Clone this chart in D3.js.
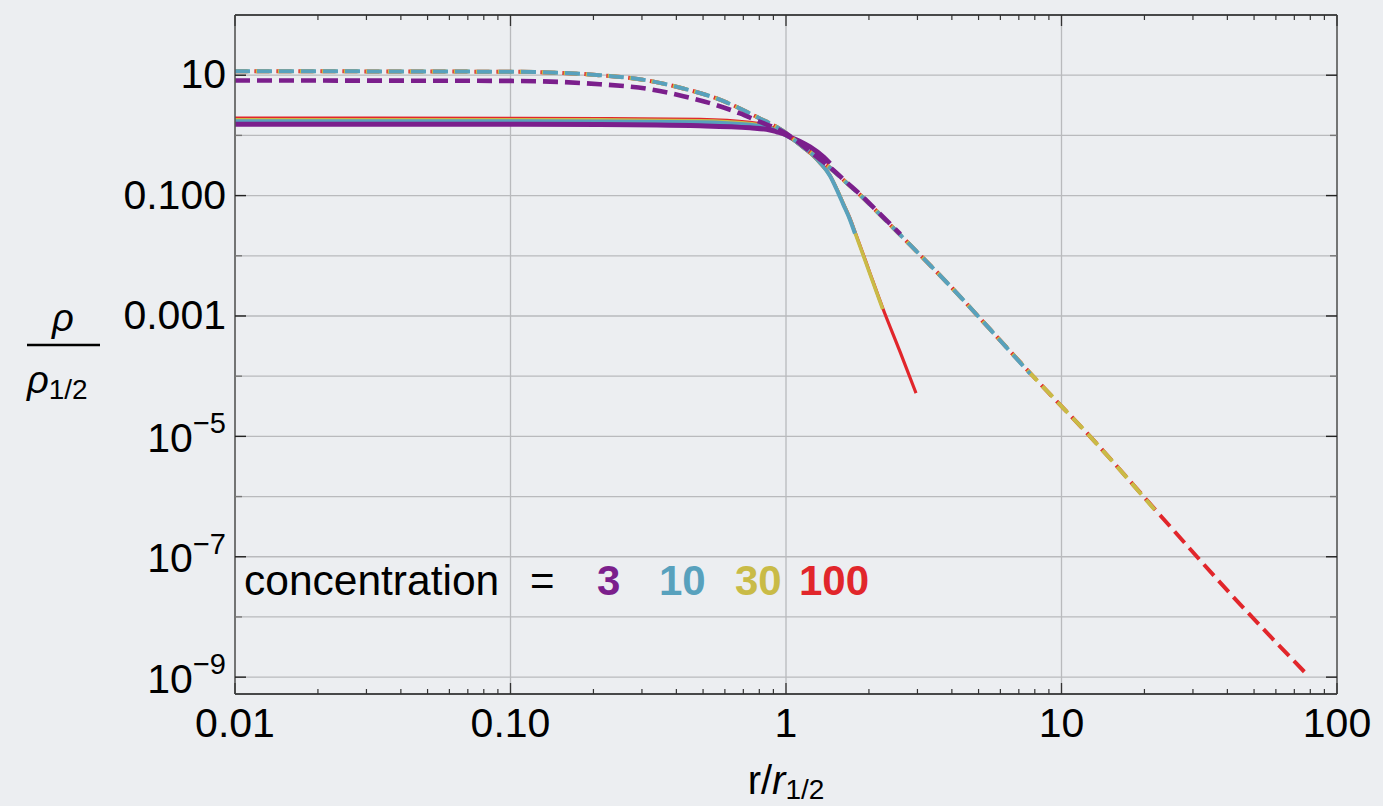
<!DOCTYPE html>
<html>
<head>
<meta charset="utf-8">
<script src="https://cdn.jsdelivr.net/npm/d3@7"></script>
<style>
body { margin: 0; background: #eceef1; }
svg { display: block; font-family: "Liberation Sans", Arial, Helvetica, sans-serif; }
</style>
</head>
<body>
<svg id="chart"></svg>
<script>
// values: r / r_half and log10(rho / rho_half)
var concentrations = ["3", "10", "30", "100"];

// solid curves
var solid_r_c3 = [0.01, 0.1, 0.211, 0.487, 0.74, 0.875, 0.925, 1.0, 1.034, 1.124, 1.222, 1.366, 1.444];
var solid_logrho_c3 = [0.186, 0.185, 0.181, 0.16, 0.125, 0.09, 0.06, 0.01, -0.025, -0.1, -0.191, -0.357, -0.467];

var solid_r_c10 = [0.01, 0.1, 0.211, 0.487, 0.74, 0.875, 0.925, 1.0, 1.063, 1.156, 1.24, 1.328, 1.444, 1.528, 1.615, 1.707, 1.78];
var solid_logrho_c10 = [0.236, 0.235, 0.232, 0.22, 0.175, 0.12, 0.085, 0.0, -0.07, -0.2, -0.31, -0.45, -0.67, -0.9, -1.15, -1.4, -1.63];

var solid_r_c30 = [0.01, 0.1, 0.211, 0.487, 0.74, 0.875, 0.925, 1.0, 1.063, 1.156, 1.24, 1.328, 1.444, 1.528, 1.615, 1.707, 1.78, 1.872, 2.018, 2.244];
var solid_logrho_c30 = [0.261, 0.26, 0.257, 0.243, 0.195, 0.132, 0.092, 0.0, -0.072, -0.203, -0.315, -0.455, -0.668, -0.892, -1.14, -1.39, -1.615, -1.89, -2.305, -2.885];

var solid_r_c100 = [0.01, 0.1, 0.211, 0.487, 0.74, 0.875, 0.925, 1.0, 1.063, 1.156, 1.24, 1.328, 1.444, 1.528, 1.615, 1.707, 1.78, 1.872, 2.018, 2.244, 2.593, 2.965];
var solid_logrho_c100 = [0.286, 0.285, 0.281, 0.266, 0.215, 0.145, 0.1, 0.0, -0.075, -0.205, -0.32, -0.46, -0.665, -0.885, -1.13, -1.375, -1.6, -1.874, -2.289, -2.867, -3.593, -4.282];

// dashed curves
var dashed_r_c3 = [0.01, 0.1, 0.211, 0.321, 0.424, 0.56, 0.681, 0.804, 0.925, 1.0, 1.063, 1.24, 1.444, 1.661, 1.908, 2.134, 2.6];
var dashed_logrho_c3 = [0.912, 0.905, 0.85, 0.767, 0.651, 0.502, 0.364, 0.224, 0.113, 0.03, -0.05, -0.29, -0.53, -0.78, -1.03, -1.25, -1.64];

var dashed_r_c10 = [0.01, 0.1, 0.211, 0.321, 0.424, 0.56, 0.681, 0.804, 0.925, 1.0, 1.063, 1.24, 1.444, 1.661, 1.908, 2.134, 2.593, 3.94, 5.5, 7.69];
var dashed_logrho_c10 = [1.066, 1.057, 1.0, 0.905, 0.779, 0.613, 0.447, 0.281, 0.141, 0.04, -0.06, -0.3, -0.54, -0.79, -1.04, -1.26, -1.65, -2.5, -3.22, -3.96];

var dashed_r_c30 = [0.01, 0.1, 0.211, 0.321, 0.424, 0.56, 0.681, 0.804, 0.925, 1.0, 1.063, 1.24, 1.444, 1.661, 1.908, 2.134, 2.593, 3.94, 5.5, 8.13, 12.69, 21.8];
var dashed_logrho_c30 = [1.066, 1.057, 1.0, 0.905, 0.779, 0.613, 0.447, 0.281, 0.141, 0.04, -0.06, -0.3, -0.54, -0.79, -1.04, -1.26, -1.65, -2.5, -3.22, -4.066, -5.0, -6.22];

var dashed_r_c100 = [0.01, 0.1, 0.211, 0.321, 0.424, 0.56, 0.681, 0.804, 0.925, 1.0, 1.063, 1.24, 1.444, 1.661, 1.908, 2.134, 2.593, 3.94, 5.5, 8.13, 12.69, 22.8, 42.0, 77.2];
var dashed_logrho_c100 = [1.066, 1.057, 1.0, 0.905, 0.779, 0.613, 0.447, 0.281, 0.141, 0.04, -0.06, -0.3, -0.54, -0.79, -1.04, -1.26, -1.65, -2.5, -3.22, -4.066, -5.0, -6.31, -7.666, -8.94];

// ticks
var x_tick_values = [0.01, 0.1, 1, 10, 100];
var x_tick_labels = ["0.01", "0.10", "1", "10", "100"];
var y_tick_exps = [1, -1, -3, -5, -7, -9];
var y_tick_base = ["10", "0.100", "0.001", "10", "10", "10"];
var y_tick_sup = ["", "", "", "\u22125", "\u22127", "\u22129"];

// ---- style / layout ----
var w = 1383, h = 806;
var bg_color = "#eceef1";
var colors = {
  "3": "#7b1f8c",
  "10": "#58a1bd",
  "30": "#c9bb47",
  "100": "#e1262b"
};
var solid_width = { "3": 5, "10": 4, "30": 3.6, "100": 3.2 };
var dashed_width = { "3": 4.6, "10": 4, "30": 4, "100": 4 };
var dash_offset = { "3": 0, "10": 0, "30": 1.3, "100": 2.6 };
var legend_x = { "3": 597, "10": 659, "30": 735, "100": 799 };

// note: "top" is taken by window.top, so use plot_* names
var plot_left = 235, plot_right = 1337, plot_top = 15, plot_bottom = 694;

var svg = d3.select("#chart")
  .attr("width", w)
  .attr("height", h)
  .attr("style", "background-color: " + bg_color + ";");

var x = d3.scaleLog().domain([0.01, 100]).range([plot_left, plot_right]);
var y = d3.scaleLog().domain([Math.pow(10, -9.28), 100]).range([plot_bottom, plot_top]);

// grid
var grid = svg.append("g");
grid.selectAll("line.v")
  .data([0.1, 1, 10])
  .enter().append("line")
  .attr("x1", d => x(d)).attr("x2", d => x(d))
  .attr("y1", plot_top).attr("y2", plot_bottom)
  .attr("stroke", "#b9babd").attr("stroke-width", 1.3);
grid.selectAll("line.h")
  .data(d3.range(-9, 2))
  .enter().append("line")
  .attr("x1", plot_left).attr("x2", plot_right)
  .attr("y1", d => y(Math.pow(10, d))).attr("y2", d => y(Math.pow(10, d)))
  .attr("stroke", "#b9babd").attr("stroke-width", 1.3);

// curves
svg.append("clipPath").attr("id", "plotclip")
  .append("rect").attr("x", plot_left).attr("y", plot_top)
  .attr("width", plot_right - plot_left).attr("height", plot_bottom - plot_top);

var line = d3.line()
  .x(d => x(d[0]))
  .y(d => y(Math.pow(10, d[1])))
  .curve(d3.curveMonotoneX);

var solid_series = {
  "3": d3.zip(solid_r_c3, solid_logrho_c3),
  "10": d3.zip(solid_r_c10, solid_logrho_c10),
  "30": d3.zip(solid_r_c30, solid_logrho_c30),
  "100": d3.zip(solid_r_c100, solid_logrho_c100)
};
var dashed_series = {
  "3": d3.zip(dashed_r_c3, dashed_logrho_c3),
  "10": d3.zip(dashed_r_c10, dashed_logrho_c10),
  "30": d3.zip(dashed_r_c30, dashed_logrho_c30),
  "100": d3.zip(dashed_r_c100, dashed_logrho_c100)
};

var curves = svg.append("g").attr("clip-path", "url(#plotclip)");
// largest concentration drawn first, c = 3 ends up on top
var draw_order = concentrations.slice().reverse();

draw_order.forEach(function(c) {
  curves.append("path")
    .attr("d", line(solid_series[c]))
    .attr("fill", "none")
    .attr("stroke", colors[c])
    .attr("stroke-width", solid_width[c])
    .attr("stroke-linecap", "butt");
});
draw_order.forEach(function(c) {
  curves.append("path")
    .attr("d", line(dashed_series[c]))
    .attr("fill", "none")
    .attr("stroke", colors[c])
    .attr("stroke-width", dashed_width[c])
    .attr("stroke-dasharray", "15,7")
    .attr("stroke-dashoffset", dash_offset[c]);
});

// frame
var frame = svg.append("g");
frame.append("line").attr("x1", plot_left).attr("x2", plot_right).attr("y1", plot_bottom).attr("y2", plot_bottom)
  .attr("stroke", "#111").attr("stroke-width", 1.6);
frame.append("line").attr("x1", plot_left).attr("x2", plot_right).attr("y1", plot_top).attr("y2", plot_top)
  .attr("stroke", "#111").attr("stroke-width", 1.6);
frame.append("line").attr("x1", plot_left).attr("x2", plot_left).attr("y1", plot_top).attr("y2", plot_bottom)
  .attr("stroke", "#555").attr("stroke-width", 1.6);
frame.append("line").attr("x1", plot_right).attr("x2", plot_right).attr("y1", plot_top).attr("y2", plot_bottom)
  .attr("stroke", "#555").attr("stroke-width", 1.6);

// x ticks (major + minor), bottom and top, pointing inward
var x_minor = [];
[0.01, 0.1, 1, 10].forEach(function(d) {
  for (var k = 2; k <= 9; k++) x_minor.push(d * k);
});
var ticks = svg.append("g");
x_minor.forEach(function(v) {
  ticks.append("line").attr("x1", x(v)).attr("x2", x(v)).attr("y1", plot_bottom).attr("y2", plot_bottom - 5)
    .attr("stroke", "#333").attr("stroke-width", 1.2);
  ticks.append("line").attr("x1", x(v)).attr("x2", x(v)).attr("y1", plot_top).attr("y2", plot_top + 5)
    .attr("stroke", "#333").attr("stroke-width", 1.2);
});
x_tick_values.forEach(function(v) {
  ticks.append("line").attr("x1", x(v)).attr("x2", x(v)).attr("y1", plot_bottom).attr("y2", plot_bottom - 11)
    .attr("stroke", "#333").attr("stroke-width", 1.3);
  ticks.append("line").attr("x1", x(v)).attr("x2", x(v)).attr("y1", plot_top).attr("y2", plot_top + 11)
    .attr("stroke", "#333").attr("stroke-width", 1.3);
});

// y ticks: labelled decades longer and darker
d3.range(-9, 2).forEach(function(e) {
  var labelled = y_tick_exps.indexOf(e) >= 0;
  var len = labelled ? 11 : 7;
  var col = labelled ? "#222" : "#777";
  var yy = y(Math.pow(10, e));
  ticks.append("line").attr("x1", plot_left).attr("x2", plot_left + len).attr("y1", yy).attr("y2", yy)
    .attr("stroke", col).attr("stroke-width", 1.4);
  ticks.append("line").attr("x1", plot_right).attr("x2", plot_right - len).attr("y1", yy).attr("y2", yy)
    .attr("stroke", col).attr("stroke-width", 1.4);
});

// tick labels
var labels = svg.append("g").attr("fill", "#000");
x_tick_values.forEach(function(v, i) {
  labels.append("text")
    .attr("x", x(v)).attr("y", 737)
    .attr("text-anchor", "middle")
    .attr("font-size", 41)
    .text(x_tick_labels[i]);
});
y_tick_exps.forEach(function(e, i) {
  var yy = y(Math.pow(10, e));
  var t = labels.append("text")
    .attr("x", 226)
    .attr("text-anchor", "end")
    .attr("font-size", 41);
  if (y_tick_sup[i] === "") {
    t.attr("y", yy + 13).text(y_tick_base[i]);
  } else {
    t.attr("y", yy + 15.5);
    t.append("tspan").text(y_tick_base[i]);
    t.append("tspan").attr("dy", -18.5).attr("font-size", 29).text(y_tick_sup[i]);
  }
});

// axis titles
var xt = labels.append("text").attr("x", 786).attr("y", 794).attr("text-anchor", "middle").attr("font-size", 40);
xt.append("tspan").text("r/");
xt.append("tspan").attr("font-style", "italic").text("r");
xt.append("tspan").attr("font-size", 28).attr("dy", 5).text("1/2");

labels.append("text").attr("x", 63).attr("y", 331).attr("text-anchor", "middle")
  .attr("font-size", 38).attr("font-style", "italic").text("\u03c1");
labels.append("line").attr("x1", 27).attr("x2", 100).attr("y1", 345).attr("y2", 345)
  .attr("stroke", "#000").attr("stroke-width", 2.6);
var yd = labels.append("text").attr("x", 27).attr("y", 393).attr("font-size", 38);
yd.append("tspan").attr("font-style", "italic").text("\u03c1");
yd.append("tspan").attr("font-size", 28).attr("dy", 6).text("1/2");

// legend
var legend = svg.append("g");
legend.append("text").attr("x", 244).attr("y", 595).attr("font-size", 42.5).text("concentration");
legend.append("text").attr("x", 530).attr("y", 595).attr("font-size", 42).text("=");
concentrations.forEach(function(c) {
  legend.append("text")
    .attr("x", legend_x[c]).attr("y", 595)
    .attr("font-size", 42).attr("font-weight", "bold")
    .attr("fill", colors[c])
    .text(c);
});
</script>
</body>
</html>
